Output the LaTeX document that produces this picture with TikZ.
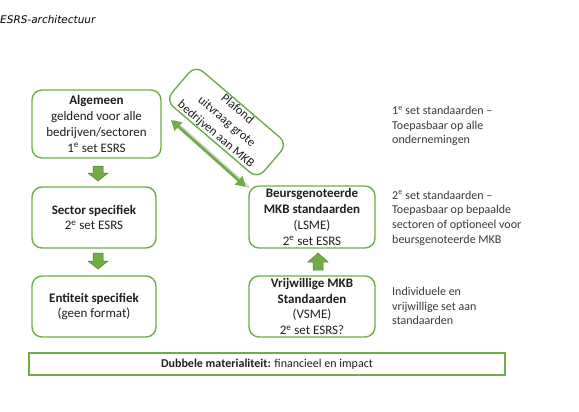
\documentclass[tikz,border=0pt]{standalone}
\usepackage{fontspec}
\setmainfont{Carlito}
\newfontfamily\titlefont{DejaVu Sans}
\usetikzlibrary{arrows.meta}
\definecolor{esgreen}{HTML}{70AD47}
\definecolor{esdark}{HTML}{548235}
\definecolor{txt}{HTML}{1F1F1F}
\definecolor{side}{HTML}{3A3A3A}
\begin{document}
\begin{tikzpicture}[x=1pt,y=-1pt,
 box/.style={draw=esgreen, line width=1.4pt, rounded corners=10pt, align=center, inner sep=0pt, font=\fontsize{13}{15.8}\selectfont, text=txt},
 sidetext/.style={anchor=west, align=left, inner sep=0pt, font=\fontsize{12}{14.6}\selectfont, text=side},
 blk/.style={fill=esgreen, draw=esdark, line width=0.5pt},
 dbl/.style={line width=2.8pt, {Triangle[length=10pt,width=11pt]}-{Triangle[length=10pt,width=11pt]}},
]
\useasboundingbox (0,0) rectangle (579,412);
\fill[white] (0,0) rectangle (579,412);

\node[anchor=west, inner sep=0pt, font=\fontsize{10.5}{12}\selectfont] (title) at (0,20) {\titlefont\itshape ESRS-architectuur};

\node[box, minimum width=129pt, minimum height=68pt] (alg) at (96.5,124)
 {\textbf{Algemeen}\\geldend voor alle\\bedrijven/sectoren\\1\textsuperscript{e} set ESRS};
\node[box, minimum width=124pt, minimum height=61pt] (sec) at (94,217.5)
 {\textbf{Sector specifiek}\\2\textsuperscript{e} set ESRS};
\node[box, minimum width=124pt, minimum height=61pt] (ent) at (94,306.5)
 {\textbf{Entiteit specifiek}\\(geen format)};
\node[box, minimum width=126pt, minimum height=62pt] (lsme) at (312,217)
 {\textbf{Beursgenoteerde}\\\textbf{MKB standaarden}\\(LSME)\\2\textsuperscript{e} set ESRS};
\node[box, minimum width=126pt, minimum height=61pt] (vsme) at (312,306.5)
 {\textbf{Vrijwillige MKB}\\\textbf{Standaarden}\\(VSME)\\2\textsuperscript{e} set ESRS?};

\node[box, rounded corners=10pt, rotate=-40.5, minimum width=121pt, minimum height=46pt, font=\fontsize{12.5}{16.5}\selectfont] (plaf) at (226.5,122)
 {Plafond\\uitvraag grote\\bedrijven aan MKB};

% double arrow
\coordinate (da) at (171,120);
\coordinate (db) at (246,187);
\draw[line width=2.8pt, draw=black!15] ([shift={(3,0.5)}]da) -- ([shift={(3,0.5)}]db);
\draw[dbl, draw=esgreen, fill=esgreen] (da) -- (db);

% block arrows
\draw[blk] (93,166) -- (103,166) -- (103,173) -- (108,173) -- (98,181) -- (88,173) -- (93,173) -- cycle;
\draw[blk] (93,253) -- (103,253) -- (103,261) -- (108,261) -- (98,269) -- (88,261) -- (93,261) -- cycle;
\draw[blk] (313,270) -- (323,270) -- (323,262) -- (328,262) -- (318,253) -- (308,262) -- (313,262) -- cycle;

% side texts
\node[sidetext] (s1) at (392,126) {1\textsuperscript{e} set standaarden --\\Toepasbaar op alle\\ondernemingen};
\node[sidetext] (s2) at (392,218) {2\textsuperscript{e} set standaarden --\\Toepasbaar op bepaalde\\sectoren of optioneel voor\\beursgenoteerde MKB};
\node[sidetext] (s3) at (392,306) {Individuele en\\vrijwillige set aan\\standaarden};

\node[draw=esgreen, line width=1.4pt, minimum width=476pt, minimum height=22pt, inner sep=0pt, font=\fontsize{12}{14}\selectfont, text=txt] (dm) at (267,364)
 {\textbf{Dubbele materialiteit:} financieel en impact};
\end{tikzpicture}
\end{document}
